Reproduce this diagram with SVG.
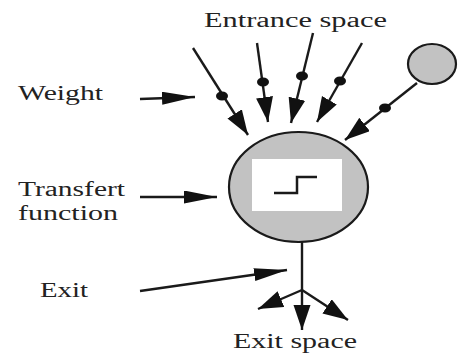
<svg xmlns="http://www.w3.org/2000/svg" width="458" height="356" viewBox="0 0 458 356">
<defs>
  <marker id="head" markerUnits="userSpaceOnUse" markerWidth="28" markerHeight="18" refX="25" refY="8.5" orient="auto">
    <path d="M0,0 L25,8.5 L0,17 Z" fill="#111"/>
  </marker>
  <marker id="headL" markerUnits="userSpaceOnUse" markerWidth="36" markerHeight="14" refX="33" refY="6.5" orient="auto">
    <path d="M0,0 L33,6.5 L0,13 Z" fill="#111"/>
  </marker>
</defs>
<rect width="458" height="356" fill="#fff"/>

<g id="neuron">
  <ellipse cx="298.5" cy="187" rx="69.5" ry="55" fill="#c2c2c2" stroke="#1a1a1a" stroke-width="2.2"/>
  <rect x="252" y="159" width="90" height="52" fill="#fff"/>
  <path d="M274,193 L297,193 L297,177 L317,177" stroke="#1a1a1a" stroke-width="2.5" fill="none"/>
</g>
<g id="input-neuron">
  <ellipse cx="432" cy="64" rx="24" ry="20" fill="#c2c2c2" stroke="#1a1a1a" stroke-width="2.2"/>
</g>

<g id="connectors" stroke="#1a1a1a" stroke-width="2.4" fill="none">
  <line x1="193" y1="48" x2="248" y2="135" marker-end="url(#head)"/>
  <line x1="257" y1="43" x2="268" y2="122" marker-end="url(#head)"/>
  <line x1="313" y1="33" x2="291" y2="123" marker-end="url(#head)"/>
  <line x1="362" y1="43" x2="317" y2="122" marker-end="url(#head)"/>
  <line x1="417" y1="83" x2="345" y2="140" marker-end="url(#head)"/>
  <g fill="#111" stroke="none">
    <ellipse cx="222" cy="96" rx="6" ry="4.5"/>
    <ellipse cx="263" cy="82" rx="6" ry="4.5"/>
    <ellipse cx="302" cy="76" rx="6" ry="4.5"/>
    <ellipse cx="340" cy="81" rx="6" ry="4.5"/>
    <ellipse cx="385" cy="108" rx="6" ry="4.5"/>
  </g>
  <line x1="140" y1="99" x2="195" y2="97" marker-end="url(#headL)"/>
  <line x1="140" y1="197" x2="217" y2="197" marker-end="url(#headL)"/>
  <line x1="140" y1="291" x2="287" y2="270" marker-end="url(#headL)"/>
  <line x1="302" y1="242" x2="302" y2="330" marker-end="url(#head)"/>
  <line x1="302" y1="290" x2="258" y2="309" marker-end="url(#head)"/>
  <line x1="302" y1="290" x2="348" y2="320" marker-end="url(#head)"/>
</g>

<g id="labels" font-family="'Liberation Serif', 'Times New Roman', Times, 'DejaVu Serif', 'Noto Serif', FreeSerif, serif" font-size="20" fill="#222">
  <text x="204" y="27" textLength="183" lengthAdjust="spacingAndGlyphs">Entrance space</text>
  <text x="18" y="100" textLength="85" lengthAdjust="spacingAndGlyphs">Weight</text>
  <text x="18" y="196" textLength="107" lengthAdjust="spacingAndGlyphs">Transfert</text>
  <text x="18" y="220" textLength="100" lengthAdjust="spacingAndGlyphs">function</text>
  <text x="40" y="297" textLength="48" lengthAdjust="spacingAndGlyphs">Exit</text>
  <text x="233" y="348" textLength="124" lengthAdjust="spacingAndGlyphs">Exit space</text>
</g>
</svg>
